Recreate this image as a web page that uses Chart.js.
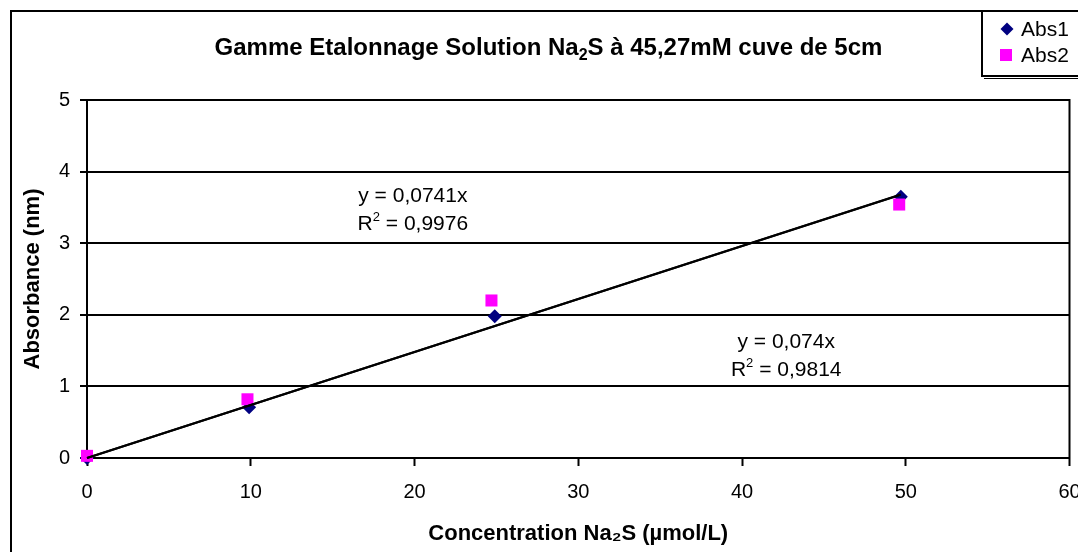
<!DOCTYPE html>
<html><head><meta charset="utf-8">
<script src="https://cdn.jsdelivr.net/npm/chart.js@4/dist/chart.umd.min.js"></script>
<style>html,body{margin:0;padding:0;background:#fff;}#wrap{width:1078px;height:552px;}</style>
</head><body><div id="wrap"><canvas id="c" width="1078" height="552"></canvas></div>
<script>
// ---- data ----
const conc1 = [0, 9.9, 24.9, 49.7];
const abs1 = [0.0, 0.71, 1.98, 3.65];
const conc2 = [0, 9.8, 24.7, 49.6];
const abs2 = [0.03, 0.82, 2.20, 3.54];
const trend1X = [0, 49.7];
const trend1Y = [0, 3.68];
const trend2X = [0, 49.6];
const trend2Y = [0, 3.67];
const xTicks = [0, 10, 20, 30, 40, 50, 60];
const yTicks = [0, 1, 2, 3, 4, 5];
const seriesNames = ['Abs1', 'Abs2'];
const titleParts = ['Gamme Etalonnage Solution Na', '2', 'S à 45,27mM cuve de 5cm'];
const eq1Lines = ['y = 0,0741x', 'R', '2', ' = 0,9976'];
const eq2Lines = ['y = 0,074x', 'R', '2', ' = 0,9814'];

const FONT = "'Liberation Sans', Arial, sans-serif";
const pts = (xs, ys) => xs.map((x, i) => ({x: x, y: ys[i]}));

const decor = {
  id: 'decor',
  beforeDraw(chart) {
    const ctx = chart.ctx;
    ctx.save();
    ctx.fillStyle = '#fff';
    ctx.fillRect(0, 0, chart.width, chart.height);
    ctx.strokeStyle = '#000';
    ctx.lineWidth = 2;
    ctx.beginPath();
    ctx.moveTo(11, chart.height + 4);
    ctx.lineTo(11, 11);
    ctx.lineTo(chart.width + 4, 11);
    ctx.stroke();
    ctx.restore();
  },
  afterDraw(chart, args, opts) {
    const ctx = chart.ctx;
    const ca = chart.chartArea;
    const sx = chart.scales.x, sy = chart.scales.y;
    ctx.save();
    // right border of plot area
    ctx.strokeStyle = '#000';
    ctx.lineWidth = 2;
    ctx.beginPath();
    ctx.moveTo(ca.right, ca.top - 1);
    ctx.lineTo(ca.right, ca.bottom + 1);
    ctx.stroke();

    // title with subscript
    ctx.fillStyle = '#000';
    ctx.textBaseline = 'alphabetic';
    ctx.textAlign = 'left';
    const big = 'bold 24px ' + FONT, small = 'bold 16px ' + FONT;
    ctx.font = big; const w0 = ctx.measureText(titleParts[0]).width;
    ctx.font = small; const w1 = ctx.measureText(titleParts[1]).width;
    ctx.font = big; const w2 = ctx.measureText(titleParts[2]).width;
    let tx = opts.titleX - (w0 + w1 + w2) / 2;
    const ty = opts.titleY;
    ctx.font = big; ctx.fillText(titleParts[0], tx, ty);
    ctx.font = small; ctx.fillText(titleParts[1], tx + w0, ty + 5);
    ctx.font = big; ctx.fillText(titleParts[2], tx + w0 + w1, ty);

    // trend-line equations
    const drawEq = (lines, pos) => {
      const cx = sx.getPixelForValue(pos[0]);
      const y1 = sy.getPixelForValue(pos[1]);
      const y2 = sy.getPixelForValue(pos[2]);
      const f = '21px ' + FONT, fs = '13px ' + FONT;
      ctx.textBaseline = 'middle';
      ctx.textAlign = 'center';
      ctx.font = f;
      ctx.fillText(lines[0], cx, y1);
      ctx.textAlign = 'left';
      const a = ctx.measureText(lines[1]).width;
      const c = ctx.measureText(lines[3]).width;
      ctx.font = fs; const b = ctx.measureText(lines[2]).width;
      let x0 = cx - (a + b + c) / 2;
      ctx.font = f; ctx.fillText(lines[1], x0, y2);
      ctx.font = fs; ctx.fillText(lines[2], x0 + a, y2 - 7);
      ctx.font = f; ctx.fillText(lines[3], x0 + a + b, y2);
    };
    drawEq(eq1Lines, opts.eq1);
    drawEq(eq2Lines, opts.eq2);

    // legend box
    const L = opts.legend;
    ctx.fillStyle = '#fff';
    ctx.fillRect(L.x, L.y, chart.width - L.x + 5, L.h);
    ctx.strokeStyle = '#000';
    ctx.lineWidth = 2;
    ctx.strokeRect(L.x, L.y, chart.width - L.x + 10, L.h);
    ctx.lineWidth = 1;
    ctx.beginPath();
    ctx.moveTo(L.x + 2, L.y + L.h + 2.5);
    ctx.lineTo(chart.width, L.y + L.h + 2.5);
    ctx.stroke();
    // Abs1 marker (diamond)
    ctx.fillStyle = '#000080';
    ctx.beginPath();
    const dx = L.x + 25, dy = L.y + 18;
    ctx.moveTo(dx, dy - 6.5); ctx.lineTo(dx + 6.5, dy); ctx.lineTo(dx, dy + 6.5); ctx.lineTo(dx - 6.5, dy);
    ctx.closePath(); ctx.fill();
    // Abs2 marker (square)
    ctx.fillStyle = '#FF00FF';
    const qx = L.x + 24, qy = L.y + 44;
    ctx.fillRect(qx - 6, qy - 6, 12, 12);
    ctx.fillStyle = '#000';
    ctx.font = '21px ' + FONT;
    ctx.textAlign = 'left';
    ctx.textBaseline = 'middle';
    ctx.fillText(seriesNames[0], L.x + 39, dy + 1);
    ctx.fillText(seriesNames[1], L.x + 39, qy + 1);
    ctx.restore();
  }
};

new Chart(document.getElementById('c'), {
  type: 'scatter',
  data: {
    datasets: [
      {label: 'Linéaire (Abs1)', type: 'line', data: pts(trend1X, trend1Y), borderColor: '#000', borderWidth: 2,
       pointRadius: 0, showLine: true, fill: false, clip: false},
      {label: 'Linéaire (Abs2)', type: 'line', data: pts(trend2X, trend2Y), borderColor: '#000', borderWidth: 2,
       pointRadius: 0, showLine: true, fill: false, clip: false},
      {label: seriesNames[1], data: pts(conc2, abs2), pointStyle: 'rect', pointRadius: 8.5,
       backgroundColor: '#FF00FF', borderColor: '#FF00FF', borderWidth: 0, clip: false},
      {label: seriesNames[0], data: pts(conc1, abs1), pointStyle: 'rectRot', pointRadius: 7,
       backgroundColor: '#000080', borderColor: '#000080', borderWidth: 0, clip: false}
    ]
  },
  options: {
    responsive: false,
    animation: false,
    devicePixelRatio: 1,
    layout: {padding: {top: 100, right: 8, left: 0, bottom: 0}},
    plugins: {
      legend: {display: false},
      title: {display: false},
      tooltip: {enabled: false},
      decor: {
        titleX: 548.5, titleY: 55,
        eq1: [19.9, 3.66, 3.26],
        eq2: [42.7, 1.62, 1.22],
        legend: {x: 982, y: 11, h: 65}
      }
    },
    scales: {
      x: {
        type: 'linear', min: 0, max: 60,
        afterBuildTicks: s => { s.ticks = xTicks.map(v => ({value: v})); },
        afterFit: s => { s.height = 94; s.paddingLeft = 0; s.paddingRight = 0; },
        grid: {drawOnChartArea: false, drawTicks: true, tickLength: 8, tickColor: '#000', tickWidth: 2},
        border: {color: '#000', width: 2},
        ticks: {color: '#000', font: {family: FONT, size: 20}, padding: 14, maxRotation: 0, autoSkip: false},
        title: {display: true, text: 'Concentration Na₂S (µmol/L)', color: '#000',
                font: {family: FONT, size: 22, weight: 'bold'}, padding: {top: 0, bottom: 5}}
      },
      y: {
        type: 'linear', min: 0, max: 5,
        afterBuildTicks: s => { s.ticks = yTicks.map(v => ({value: v})); },
        afterFit: s => { s.width = 87; },
        grid: {color: '#000', lineWidth: 2, tickLength: 7, tickColor: '#000', tickWidth: 2},
        border: {color: '#000', width: 2},
        ticks: {color: '#000', font: {family: FONT, size: 20}, padding: 10},
        title: {display: true, text: 'Absorbance (nm)', color: '#000',
                font: {family: FONT, size: 22, weight: 'bold'}, padding: {top: 20, bottom: 0}}
      }
    }
  },
  plugins: [decor]
});
</script>
</body></html>
